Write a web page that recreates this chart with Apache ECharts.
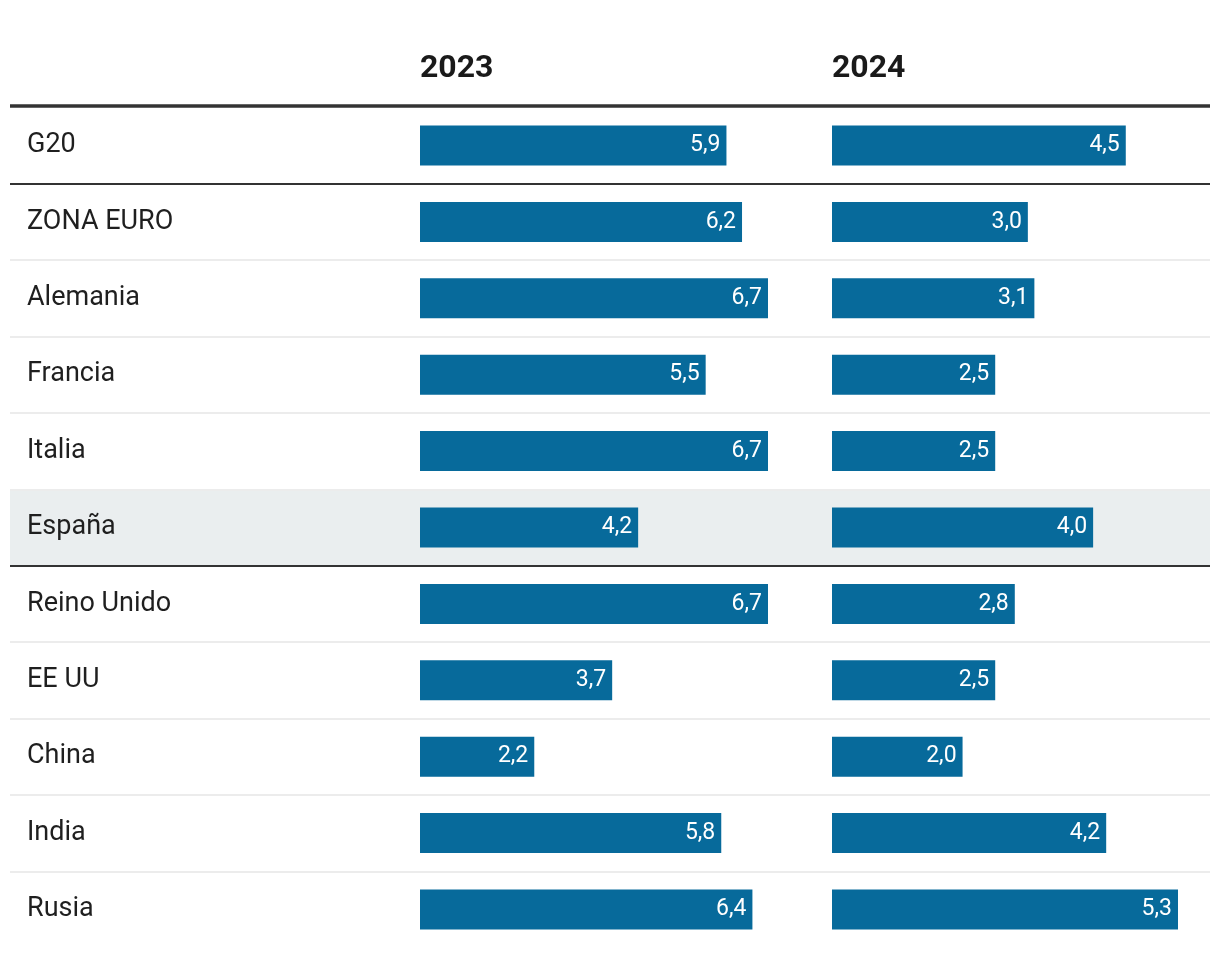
<!DOCTYPE html>
<html>
<head>
<meta charset="utf-8">
<script src="https://cdn.jsdelivr.net/npm/echarts@6/dist/echarts.min.js"></script>
<style>html,body{margin:0;padding:0;background:#fff}#c{width:1220px;height:956px}</style>
</head>
<body>
<div id="c"></div>
<script>
const countries = ['G20','ZONA EURO','Alemania','Francia','Italia','España','Reino Unido','EE UU','China','India','Rusia'];
const years = ['2023','2024'];
const values2023 = [5.9,6.2,6.7,5.5,6.7,4.2,6.7,3.7,2.2,5.8,6.4];
const values2024 = [4.5,3.0,3.1,2.5,2.5,4.0,2.8,2.5,2.0,4.2,5.3];
const highlight = 'España';
const darkAfter = ['G20','España'];

const FONT = 'Roboto, "Noto Sans", sans-serif';
const TOP = 107.3, BOTTOM = 8.3;
const BAR = '#076a9b';
const fmt = v => v.toFixed(1).replace('.', ',');

// separator colours per category boundary (n+1 boundaries)
const lightLines = [], darkLines = [], areas = [];
for (let i = 0; i <= countries.length; i++) {
  const prev = countries[i - 1];
  const isDark = prev !== undefined && darkAfter.includes(prev);
  const isEdge = i === 0 || i === countries.length;
  lightLines.push(!isEdge && !isDark ? '#ececec' : 'rgba(0,0,0,0)');
  darkLines.push(isDark ? '#333333' : 'rgba(0,0,0,0)');
}
countries.forEach(c => areas.push(c === highlight ? '#eaeeef' : 'rgba(0,0,0,0)'));

const chart = echarts.init(document.getElementById('c'));
const catAxisBase = {
  type: 'category', data: countries, inverse: true,
  axisLine: {show: false}, axisTick: {show: false}, axisLabel: {show: false},
  splitLine: {show: false}
};
const mkSeries = (vals, idx) => ({
  type: 'bar', xAxisIndex: idx, yAxisIndex: idx, data: vals, barWidth: 40,
  itemStyle: {color: BAR}, silent: true, animation: false,
  label: {
    show: true, position: 'insideRight', distance: 6, color: '#fff',
    fontFamily: FONT, fontSize: 23, formatter: p => fmt(p.value)
  }
});
const titleStyle = {fontFamily: FONT, fontSize: 32, fontWeight: 'bold', color: '#1a1a1a'};

chart.setOption({
  animation: false,
  title: [
    {text: years[0], left: 420, top: 53, padding: 0, textStyle: titleStyle},
    {text: years[1], left: 832, top: 53, padding: 0, textStyle: titleStyle}
  ],
  grid: [
    {left: 420, right: 1220 - 768, top: TOP, bottom: BOTTOM},
    {left: 832, right: 1220 - 1178, top: TOP, bottom: BOTTOM},
    {left: 10, right: 10, top: TOP, bottom: BOTTOM}
  ],
  xAxis: [
    {type: 'value', gridIndex: 0, min: 0, max: Math.max(...values2023), show: false},
    {type: 'value', gridIndex: 1, min: 0, max: Math.max(...values2024), show: false},
    {type: 'value', gridIndex: 2, min: 0, max: 1, position: 'top', offset: 2,
     axisLine: {show: true, onZero: false, lineStyle: {color: '#333', width: 3.5, cap: 'butt'}},
     axisTick: {show: false}, axisLabel: {show: false}, splitLine: {show: false}}
  ],
  yAxis: [
    Object.assign({}, catAxisBase, {gridIndex: 0}),
    Object.assign({}, catAxisBase, {gridIndex: 1}),
    Object.assign({}, catAxisBase, {
      gridIndex: 2, position: 'left',
      axisLabel: {show: true, inside: true, interval: 0, margin: 17, color: '#1f1f1f', fontFamily: FONT, fontSize: 27},
      splitArea: {show: true, interval: 0, areaStyle: {color: areas}},
      splitLine: {show: true, interval: 0, lineStyle: {color: lightLines, width: 2}}
    }),
    Object.assign({}, catAxisBase, {
      gridIndex: 2, position: 'right',
      splitLine: {show: true, interval: 0, lineStyle: {color: darkLines, width: 2}}
    })
  ],
  series: [
    mkSeries(values2023, 0),
    mkSeries(values2024, 1)
  ]
});
</script>
</body>
</html>
